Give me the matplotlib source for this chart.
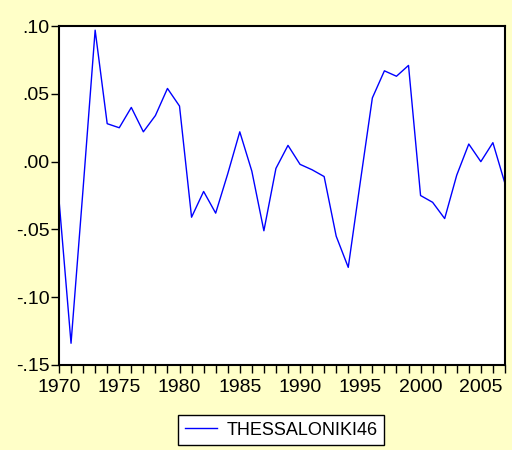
import numpy as np
import matplotlib.pyplot as plt
from matplotlib.ticker import MultipleLocator, FuncFormatter

plt.rcParams['font.family'] = ['Liberation Sans', 'DejaVu Sans']

years = list(range(1970, 2008))
thessaloniki46 = [
    -0.028, -0.134, -0.020, 0.097, 0.028, 0.025, 0.040, 0.022, 0.034, 0.054,
    0.041, -0.041, -0.022, -0.038, -0.009, 0.022, -0.007, -0.051, -0.005, 0.012,
    -0.002, -0.006, -0.011, -0.055, -0.078, -0.015, 0.047, 0.067, 0.063, 0.071,
    -0.025, -0.030, -0.042, -0.010, 0.013, 0.000, 0.014, -0.016,
]
series_name = 'THESSALONIKI46'

bg = '#FFFFC8'

fig = plt.figure(figsize=(5.12, 4.5), dpi=100, facecolor=bg)
ax = fig.add_axes([0.1152, 0.189, 0.871, 0.753])
ax.set_facecolor('white')

line, = ax.plot(years, thessaloniki46, color='#0000FF', lw=1.0)

ax.set_xlim(1970, 2007)
ax.set_ylim(-0.15, 0.10)
ax.xaxis.set_major_locator(MultipleLocator(5))
ax.xaxis.set_minor_locator(MultipleLocator(1))
ax.yaxis.set_major_locator(MultipleLocator(0.05))

def fmt(v, pos):
    s = f'{v:.2f}'
    return s.replace('0.', '.', 1)

ax.yaxis.set_major_formatter(FuncFormatter(fmt))

ax.tick_params(axis='both', which='both', direction='out', length=6, width=1,
               labelsize=14, color='black')
ax.tick_params(top=False, right=False, which='both')
ax.tick_params(axis='x', pad=4)
ax.tick_params(axis='y', pad=1)

for sp in ax.spines.values():
    sp.set_linewidth(1.5)
    sp.set_color('black')

fig.legend([line], [series_name], loc='center', bbox_to_anchor=(0.549, 0.044),
           fontsize=13, frameon=True, fancybox=False, edgecolor='black',
           facecolor='white', framealpha=1, handlelength=1.8,
           handletextpad=0.5, borderpad=0.35)

fig.savefig('out.png', dpi=100, facecolor=bg)
